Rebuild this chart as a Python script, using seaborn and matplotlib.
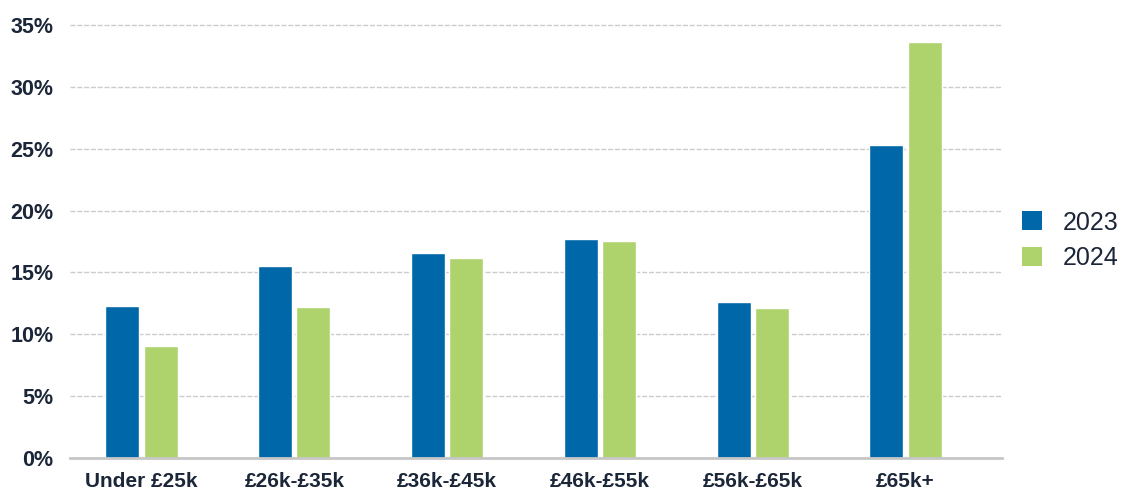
import matplotlib
matplotlib.use("Agg")
import matplotlib.pyplot as plt
import seaborn as sns
import pandas as pd
from matplotlib.patches import Patch
from matplotlib.ticker import FuncFormatter

# Salary bands and share of respondents per year (%)
categories = ["Under £25k", "£26k-£35k", "£36k-£45k", "£46k-£55k", "£56k-£65k", "£65k+"]
share_2023 = [12.3, 15.5, 16.6, 17.7, 12.6, 25.3]
share_2024 = [9.1, 12.2, 16.2, 17.5, 12.1, 33.6]
years = ["2023", "2024"]
colors = ["#0068a8", "#aed36c"]

df = pd.DataFrame({
    "band": categories * 2,
    "share": share_2023 + share_2024,
    "year": [years[0]] * len(categories) + [years[1]] * len(categories),
})

sns.set_theme(style="white")
plt.rcParams["font.family"] = ["Liberation Sans", "DejaVu Sans"]
text_color = "#1b2638"

fig = plt.figure(figsize=(11.21, 4.94), dpi=100)
ax = fig.add_axes([0.0624, 0.0719, 0.8314, 0.886])

sns.barplot(data=df, x="band", y="share", hue="year", order=categories,
            hue_order=years, palette=colors, width=0.5, gap=0.11,
            saturation=1, legend=False, ax=ax)

ax.set_ylim(0, 35.3)
ax.set_xlim(-0.468, 5.631)
ax.set_yticks(range(0, 36, 5))
ax.yaxis.set_major_formatter(FuncFormatter(lambda v, _: f"{v:.0f}%"))
ax.grid(axis="y", color="#cccccc", linewidth=1, linestyle=(0, (3.6, 1.3)))
ax.set_axisbelow(True)

for side in ["top", "right", "left"]:
    ax.spines[side].set_visible(False)
ax.spines["bottom"].set_color("#c6c6c6")
ax.spines["bottom"].set_linewidth(2)

ax.tick_params(axis="both", length=0, colors=text_color)
ax.tick_params(axis="y", pad=12, labelsize=15.5)
ax.tick_params(axis="x", pad=10, labelsize=15)
for lbl in ax.get_xticklabels() + ax.get_yticklabels():
    lbl.set_fontweight("bold")
    lbl.set_color(text_color)
ax.set_xlabel("")
ax.set_ylabel("")

handles = [Patch(facecolor=c, edgecolor="none", label=y) for c, y in zip(colors, years)]
leg = fig.legend(handles=handles, loc="upper left", bbox_to_anchor=(0.9025, 0.594),
                 frameon=False, fontsize=18, handlelength=0.8, handleheight=0.8,
                 handletextpad=0.85, labelspacing=0.45, borderaxespad=0)
for t in leg.get_texts():
    t.set_color(text_color)

fig.savefig("out.png", dpi=100)
